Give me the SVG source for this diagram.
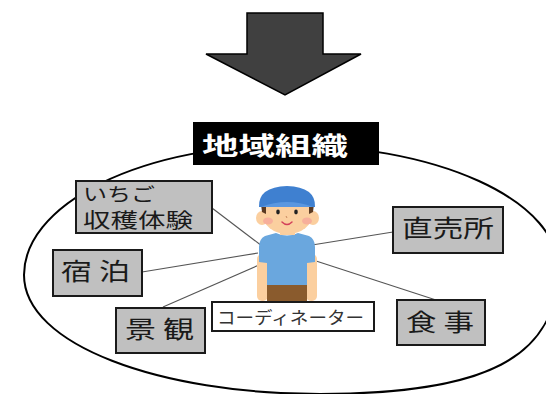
<svg xmlns="http://www.w3.org/2000/svg" width="546" height="394" viewBox="0 0 546 394">
  <defs>
    <style>
      .jp { font-family: "Noto Sans CJK JP", "Noto Sans", sans-serif; fill: #1a1a1a; }
      .box { fill: #c0c0c0; stroke: #1a1a1a; stroke-width: 2; }
      .link { stroke: #555; stroke-width: 1.1; fill: none; }
      .skin { fill: #fbcf9f; }
    </style>
  </defs>
  <rect width="546" height="394" fill="#ffffff"/>

  <!-- big down arrow -->
  <g id="arrow">
    <polygon points="247,13 323,13 323,54 361,54 285,95 206,54 247,54" fill="#404040" stroke="#000" stroke-width="1.5" stroke-linejoin="miter"/>
  </g>

  <!-- organisation boundary -->
  <g id="boundary">
    <path d="M24,275 A264,130 0 0 1 288,145 A270,123 0 0 1 558,268 C558,358 485,394 320,394 C160,394 24,345 24,275 Z" fill="none" stroke="#000" stroke-width="2"/>
  </g>

  <!-- connectors -->
  <g id="connectors">
    <line class="link" x1="212" y1="208" x2="262" y2="246"/>
    <line class="link" x1="142" y1="272" x2="258" y2="253"/>
    <line class="link" x1="163" y1="307" x2="259" y2="265"/>
    <line class="link" x1="312" y1="245" x2="393" y2="232"/>
    <line class="link" x1="313" y1="260" x2="436" y2="300"/>
  </g>

  <!-- coordinator figure -->
  <g id="coordinator-figure">
    <rect class="skin" x="257" y="254" width="11" height="47" rx="5"/>
    <rect class="skin" x="306" y="254" width="11" height="47" rx="5"/>
    <rect x="267" y="281" width="40" height="22" fill="#8a5b2d"/>
    <path d="M276,233 Q287,238 298,233 L309,236 Q315,239 315,247 L315,262 L307,263 L307,285 L267,285 L267,263 L259,262 L259,247 Q259,239 265,236 Z" fill="#6aa7de"/>
    <rect class="skin" x="280" y="226" width="15" height="9"/>
    <ellipse class="skin" cx="262" cy="218" rx="6" ry="7"/>
    <ellipse class="skin" cx="313" cy="218" rx="6" ry="7"/>
    <ellipse class="skin" cx="287.5" cy="214" rx="25" ry="20"/>
    <path d="M261,204 L266,204 L266,214 L262,212 Z" fill="#5a3a22"/>
    <path d="M314,204 L309,204 L309,214 L313,212 Z" fill="#5a3a22"/>
    <ellipse cx="268" cy="221" rx="5" ry="3.5" fill="#f6a49a" opacity="0.75"/>
    <ellipse cx="307" cy="221" rx="5" ry="3.5" fill="#f6a49a" opacity="0.75"/>
    <path d="M259,207 Q258,187 287,186 Q316,187 315,207 Z" fill="#3f80d0"/>
    <path d="M261,207 Q287,197 313,207 L315,207 L259,207 Z" fill="#5a97e0"/>
    <ellipse cx="278" cy="212" rx="1.8" ry="2.4" fill="#222"/>
    <ellipse cx="296" cy="212" rx="1.8" ry="2.4" fill="#222"/>
    <path d="M286,216 L287,218" stroke="#c98a60" stroke-width="1" fill="none"/>
    <path d="M282,222 Q287,227 292,222" stroke="#d3405a" stroke-width="1.5" fill="none" stroke-linecap="round"/>
  </g>

  <!-- title -->
  <g id="title">
    <rect x="193" y="122" width="186" height="43" fill="#000"/>
    <text x="202" y="155" class="jp" style="fill:#fff;font-weight:bold" font-size="25" textLength="146" lengthAdjust="spacingAndGlyphs">地域組織</text>
  </g>

  <g id="strawberry">
    <rect class="box" x="76" y="181" width="136" height="52"/>
    <text x="83" y="201" class="jp" font-size="18" textLength="72" lengthAdjust="spacingAndGlyphs">いちご</text>
    <text x="83" y="228" class="jp" font-size="20" textLength="110" lengthAdjust="spacingAndGlyphs">収穫体験</text>
  </g>

  <g id="shop">
    <rect class="box" x="393" y="207" width="110" height="46"/>
    <text x="402" y="237" class="jp" font-size="24" textLength="92" lengthAdjust="spacingAndGlyphs">直売所</text>
  </g>

  <g id="lodging">
    <rect class="box" x="53" y="250" width="89" height="46"/>
    <text x="61" y="280" class="jp" font-size="24" textLength="69" lengthAdjust="spacingAndGlyphs">宿 泊</text>
  </g>

  <g id="scenery">
    <rect class="box" x="116" y="308" width="89" height="45"/>
    <text x="125" y="338" class="jp" font-size="24" textLength="69" lengthAdjust="spacingAndGlyphs">景 観</text>
  </g>

  <g id="meals">
    <rect class="box" x="397" y="300" width="88" height="45"/>
    <text x="406" y="331" class="jp" font-size="24" textLength="68" lengthAdjust="spacingAndGlyphs">食 事</text>
  </g>

  <g id="coordinator">
    <rect x="212" y="302" width="162" height="29" fill="#fff" stroke="#1a1a1a" stroke-width="2"/>
    <text x="217" y="324" class="jp" style="fill:#333" font-size="17" textLength="147" lengthAdjust="spacingAndGlyphs">コーディネーター</text>
  </g>
</svg>
